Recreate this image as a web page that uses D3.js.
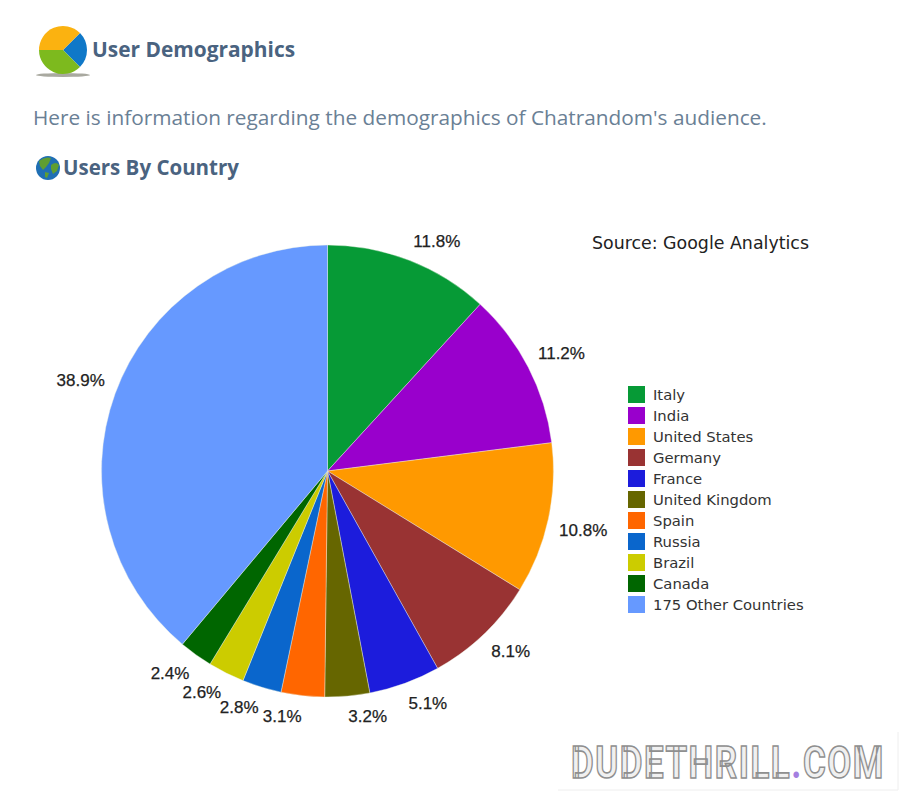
<!DOCTYPE html>
<html>
<head>
<meta charset="utf-8">
<script src="https://cdn.jsdelivr.net/npm/d3@7"></script>
<style>
  html, body { margin: 0; padding: 0; background: #fff; }
  svg { display: block; }
</style>
</head>
<body>
<svg id="canvas" width="900" height="791"></svg>
<script>
const countries = ['Italy', 'India', 'United States', 'Germany', 'France', 'United Kingdom', 'Spain', 'Russia', 'Brazil', 'Canada', '175 Other Countries'];
const shares = [11.8, 11.2, 10.8, 8.1, 5.1, 3.2, 3.1, 2.8, 2.6, 2.4, 38.9];
const sliceColors = ['#069a36', '#9900cc', '#ff9900', '#993333', '#1c1cdc', '#666600', '#ff6600', '#0a66cc', '#cccc00', '#006600', '#6699ff'];

const iconShares = [25, 37.5, 37.5];
const iconColors = ['#0f78c8', '#7dba1e', '#fbb210'];

const svg = d3.select('#canvas');
const titleColor = '#4a6380';

// page header
svg.append('text')
    .attr('x', 92).attr('y', 57)
    .attr('font-family', 'Open Sans').attr('font-weight', 700).attr('font-size', 20.9)
    .attr('fill', titleColor)
    .text('User Demographics');
svg.append('text')
    .attr('x', 33).attr('y', 125)
    .attr('font-family', 'Open Sans').attr('font-size', 20.8)
    .attr('fill', '#6a8095')
    .text("Here is information regarding the demographics of Chatrandom's audience.");
svg.append('text')
    .attr('x', 63).attr('y', 175)
    .attr('font-family', 'Open Sans').attr('font-weight', 700).attr('font-size', 20.5)
    .attr('fill', titleColor)
    .text('Users By Country');

// pie icon next to the title
const icon = svg.append('g').attr('transform', 'translate(63, 50)');
icon.append('ellipse')
    .attr('cx', 0).attr('cy', 25).attr('rx', 27).attr('ry', 2)
    .attr('fill', '#a9a9a0');
const iconArc = d3.arc().innerRadius(0).outerRadius(24);
icon.selectAll('path')
    .data(d3.pie().sort(null).startAngle(Math.PI * 0.25).endAngle(Math.PI * 2.25)(iconShares))
    .join('path')
    .attr('d', iconArc)
    .attr('fill', (d, i) => iconColors[i]);

// globe icon
const globe = svg.append('g').attr('transform', 'translate(48, 168)');
globe.append('circle').attr('r', 12).attr('fill', '#1f6fb4');
globe.append('path')
    .attr('d', 'M-9,-7 Q-3,-12 3,-10 L1,-5 L-2,-1 L-5,2 L-8,-2 Z M3,-3 Q8,-7 11,-3 L9,3 L5,6 L3,1 Z M-3,4 L1,5 L-1,10 L-3,9 Z')
    .attr('fill', '#5f9e32');

// pie
const centerX = 327.5;
const centerY = 471;
const radius = 226;
const pie = d3.pie().sort(null).startAngle(0).endAngle(2 * Math.PI);
const slices = pie(shares);
const arc = d3.arc().innerRadius(0).outerRadius(radius);
const labelArc = d3.arc().innerRadius(radius + 11).outerRadius(radius + 11);

const chart = svg.append('g').attr('transform', `translate(${centerX}, ${centerY})`);
chart.selectAll('path')
    .data(slices)
    .join('path')
    .attr('d', arc)
    .attr('fill', (d, i) => sliceColors[i])
    .attr('stroke', '#eef2e6')
    .attr('stroke-width', 0.4);

chart.selectAll('text')
    .data(slices)
    .join('text')
    .attr('x', (d) => labelArc.centroid(d)[0])
    .attr('y', (d) => labelArc.centroid(d)[1] + (labelArc.centroid(d)[1] < 0 ? -9.5 : 9))
    .attr('dy', '0.35em')
    .attr('text-anchor', (d) => (labelArc.centroid(d)[0] < 0 ? 'end' : 'start'))
    .attr('font-family', 'Liberation Sans')
    .attr('font-size', 17)
    .attr('stroke', '#222').attr('stroke-width', 0.25)
    .attr('fill', '#222')
    .text((d) => `${d.data}%`);

svg.append('text')
    .attr('x', 592).attr('y', 249)
    .attr('font-family', 'DejaVu Sans').attr('font-size', 17.4)
    .attr('fill', '#222')
    .text('Source: Google Analytics');

// legend
const legendY = d3.scaleBand().domain(countries).range([384, 615]);
const legend = svg.append('g').selectAll('g')
    .data(countries)
    .join('g')
    .attr('transform', (d) => `translate(628, ${legendY(d)})`);
legend.append('rect')
    .attr('y', 2).attr('width', 17).attr('height', 17)
    .attr('fill', (d, i) => sliceColors[i]);
legend.append('text')
    .attr('x', 25).attr('y', legendY.bandwidth() / 2)
    .attr('dy', '0.35em')
    .attr('font-family', 'DejaVu Sans').attr('font-size', 14.8)
    .attr('fill', '#333')
    .text((d) => d);

// watermark, squeezed sideways to the width of the original
const markGroup = svg.append('g');
const mark = markGroup.append('text')
    .attr('font-family', 'Roboto').attr('font-weight', 700).attr('font-size', 45)
    .attr('fill', '#f0f0f0').attr('stroke', '#8f8f8f').attr('stroke-width', 1.6)
    .attr('letter-spacing', 2);
mark.append('tspan').text('DUDETHRILL');
mark.append('tspan').attr('fill', '#a47fe0').attr('stroke', 'none').text('.');
mark.append('tspan').text('COM');
const markScale = 314 / mark.node().getComputedTextLength();
markGroup.attr('transform', `translate(571, 778) scale(${markScale}, 1)`);
svg.append('path')
    .attr('d', 'M558,790 H898 V732')
    .attr('fill', 'none').attr('stroke', '#eeeeee');
</script>
</body>
</html>
